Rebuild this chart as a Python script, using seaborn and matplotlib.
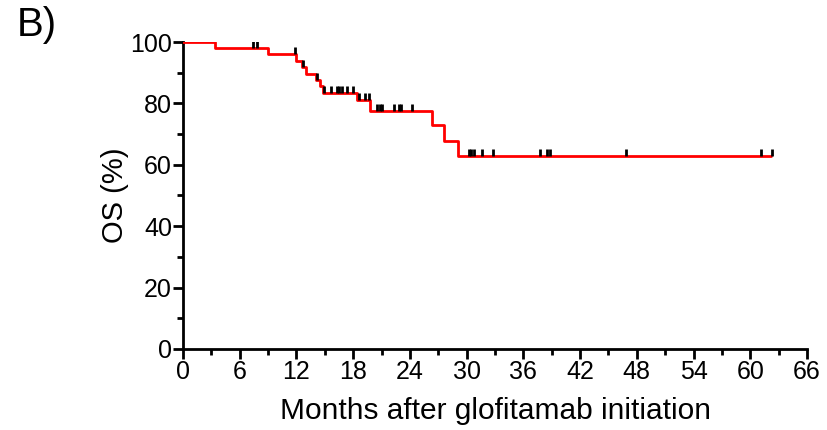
import numpy as np
import pandas as pd
import matplotlib
matplotlib.use("Agg")
import matplotlib.pyplot as plt
import seaborn as sns
from matplotlib.ticker import MultipleLocator

# Kaplan-Meier steps (months, OS %)
step_times = [0, 3.4, 9.0, 12.0, 12.55, 13.0, 14.05, 14.5, 14.85, 18.4, 19.8, 26.3, 27.6, 29.1, 62.2]
step_surv = [100, 98, 96, 93.9, 91.8, 89.7, 87.6, 85.6, 83.5, 81.1, 77.4, 72.9, 67.8, 62.9, 62.9]

# censored patients (months)
censor_times = [7.4, 7.8, 11.85, 12.7, 14.2, 14.95, 15.7, 16.3, 16.5, 16.8, 17.3, 18.0,
                18.6, 19.2, 19.7, 20.5, 20.8, 21.1, 22.3, 22.8, 23.1, 24.2,
                30.2, 30.5, 30.8, 31.6, 32.8, 37.8, 38.5, 38.8, 46.9, 61.1, 62.3]

x_ticks = list(range(0, 67, 6))
y_ticks = list(range(0, 101, 20))

km = pd.DataFrame({"time": step_times, "surv": step_surv})

# survival level at each censor time
idx = np.searchsorted(step_times, censor_times, side="right") - 1
censor_surv = np.array(step_surv)[idx]

sns.set_style("ticks")
plt.rcParams["font.family"] = ["Liberation Sans", "DejaVu Sans"]
plt.rcParams["text.color"] = "black"
plt.rcParams["axes.labelcolor"] = "black"

fig = plt.figure(figsize=(8.27, 4.30), dpi=100)
ax = fig.add_axes([0.2213, 0.1884, 0.7545, 0.7139])

sns.lineplot(data=km, x="time", y="surv", drawstyle="steps-post",
             color="#ff0000", linewidth=2, ax=ax, zorder=3)
ax.vlines(censor_times, censor_surv, censor_surv + 2.3, color="black", linewidth=2, zorder=4)

ax.set_xlim(0, 66)
ax.set_ylim(0, 100)
ax.set_xticks(x_ticks)
ax.set_yticks(y_ticks)
ax.xaxis.set_minor_locator(MultipleLocator(3))
ax.yaxis.set_minor_locator(MultipleLocator(10))
ax.tick_params(which="major", length=7, width=2, labelsize=18, color="black", labelcolor="black", pad=1)
ax.tick_params(which="minor", length=4, width=2, color="black")
for side in ["left", "bottom"]:
    ax.spines[side].set_linewidth(2)
    ax.spines[side].set_color("black")
sns.despine(ax=ax)
ax.spines["left"].set_bounds(0, 100)
ax.spines["bottom"].set_bounds(0, 66)

ax.set_xlabel("Months after glofitamab initiation", fontsize=21.5, labelpad=9)
ax.set_ylabel("OS (%)", fontsize=21, labelpad=1)
fig.text(0.02, 0.985, "B)", fontsize=29, va="top", ha="left")

fig.savefig("out.png", dpi=100)
